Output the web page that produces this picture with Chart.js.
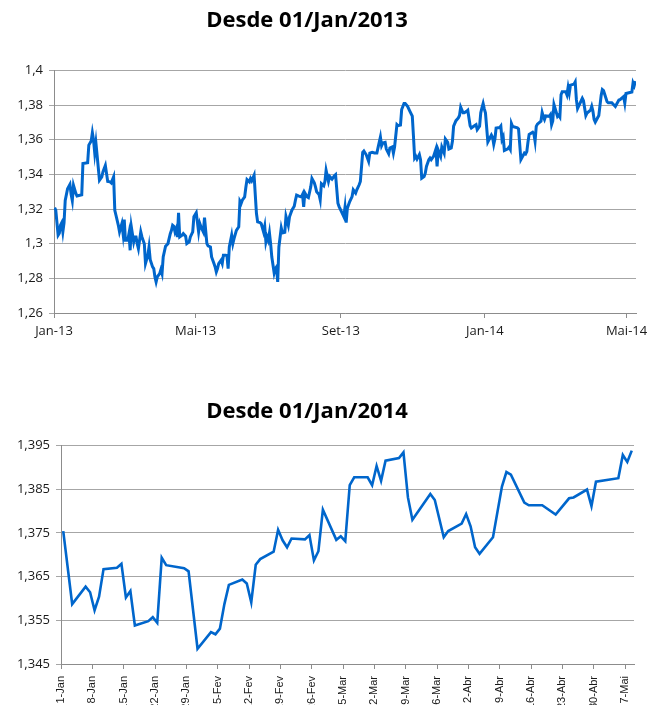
<!DOCTYPE html>
<html>
<head>
<meta charset="utf-8">
<script src="https://cdn.jsdelivr.net/npm/chart.js@4.4.1/dist/chart.umd.min.js"></script>
<style>
  html, body { margin: 0; padding: 0; background: #fff; overflow: hidden; width: 663px; height: 705px; }
  canvas { position: absolute; }
  #chartAll { left: -22px; top: 0; }
  #chart2014 { left: -20px; top: 385px; }
</style>
</head>
<body>
<canvas id="chartAll" width="685" height="345"></canvas>
<canvas id="chart2014" width="683" height="335"></canvas>
<script>
// days since 1 Jan 2013
var days2013 = [
  0, 1, 3, 4, 5, 6, 7, 8, 9, 11,
  13, 14, 15, 16, 18, 19, 23, 24, 28, 29,
  31, 32, 33, 34, 35, 36, 38, 40, 41, 43,
  44, 45, 47, 48, 50, 51, 52, 54, 55, 57,
  58, 59, 60, 62, 63, 64, 65, 67, 68, 69,
  70, 71, 73, 74, 76, 77, 79, 80, 81, 83,
  84, 85, 86, 87, 89, 90, 91, 92, 94, 96,
  98, 99, 100, 101, 102, 103, 104, 105, 106, 108,
  109, 111, 112, 114, 115, 117, 118, 120, 122, 123,
  124, 126, 127, 129, 130, 132, 133, 135, 136, 137,
  138, 139, 141, 142, 143, 145, 146, 147, 148, 150,
  151, 152, 154, 156, 157, 158, 159, 161, 162, 163,
  165, 166, 167, 169, 170, 171, 172, 174, 175, 177,
  178, 179, 180, 181, 182, 183, 184, 186, 187, 188,
  189, 190, 192, 193, 195, 196, 198, 199, 201, 203,
  204, 205, 207, 209, 210, 211, 212, 214, 215, 217,
  218, 220, 221, 222, 224, 225, 226, 228, 229, 230,
  232, 233, 235, 237, 238, 240, 241, 243, 245, 246,
  247, 248, 250, 252, 253, 255, 256, 258, 259, 261,
  262, 264, 266, 267, 269, 271, 273, 274, 276, 277,
  278, 280, 281, 283, 284, 286, 287, 288, 290, 291,
  293, 294, 296, 297, 299, 301, 303, 304, 305, 306,
  307, 309, 310, 311, 313, 314, 315, 317, 318, 319,
  321, 323, 324, 325, 327, 328, 330, 331, 333, 334,
  336, 337, 338, 340, 342, 343, 344, 346, 347, 349,
  350, 352, 353, 355, 357, 358, 360, 361, 362, 363,
  364
];
var values2013 = [
  1.3208, 1.3193, 1.3049, 1.3060, 1.3106, 1.3120, 1.3068, 1.3120, 1.3249, 1.3317,
  1.3342, 1.3285, 1.3249, 1.3337, 1.3290, 1.3275, 1.3282, 1.3463, 1.3467, 1.3569,
  1.3592, 1.3640, 1.3598, 1.3524, 1.3582, 1.3511, 1.3366, 1.3386, 1.3415, 1.3451,
  1.3405, 1.3359, 1.3357, 1.3351, 1.3386, 1.3193, 1.3164, 1.3106, 1.3068, 1.3116,
  1.3058, 1.3139, 1.3020, 1.3020, 1.3058, 1.2962, 1.3097, 1.3010, 1.3039, 1.3039,
  1.3000, 1.2971, 1.3068, 1.3039, 1.3000, 1.2885, 1.2933, 1.2981, 1.2908, 1.2866,
  1.2856, 1.2808, 1.2779, 1.2808, 1.2827, 1.2850, 1.2827, 1.2923, 1.2985, 1.3000,
  1.3058, 1.3077, 1.3106, 1.3100, 1.3068, 1.3087, 1.3039, 1.3178, 1.3039, 1.3049,
  1.3058, 1.3043, 1.3000, 1.3010, 1.3039, 1.3068, 1.3155, 1.3178, 1.3068, 1.3116,
  1.3097, 1.3068, 1.3151, 1.3000, 1.2987, 1.2981, 1.2923, 1.2885, 1.2866, 1.2837,
  1.2856, 1.2885, 1.2904, 1.2885, 1.2933, 1.2933, 1.2931, 1.2856, 1.2981, 1.3049,
  1.3000, 1.3029, 1.3077, 1.3097, 1.3245, 1.3232, 1.3251, 1.3270, 1.3324, 1.3370,
  1.3357, 1.3376, 1.3363, 1.3395, 1.3282, 1.3174, 1.3126, 1.3122, 1.3116, 1.3068,
  1.3101, 1.3010, 1.3039, 1.3020, 1.3062, 1.3000, 1.2923, 1.2831, 1.2856, 1.2866,
  1.2779, 1.2981, 1.3091, 1.3062, 1.3066, 1.3158, 1.3106, 1.3155, 1.3193, 1.3216,
  1.3251, 1.3280, 1.3274, 1.3270, 1.3284, 1.3212, 1.3293, 1.3270, 1.3266, 1.3328,
  1.3376, 1.3351, 1.3328, 1.3299, 1.3284, 1.3253, 1.3346, 1.3334, 1.3359, 1.3423,
  1.3359, 1.3388, 1.3373, 1.3392, 1.3398, 1.3234, 1.3214, 1.3185, 1.3156, 1.3210,
  1.3122, 1.3205, 1.3243, 1.3272, 1.3311, 1.3292, 1.3311, 1.3340, 1.3359, 1.3527,
  1.3535, 1.3513, 1.3475, 1.3523, 1.3527, 1.3523, 1.3523, 1.3554, 1.3616, 1.3566,
  1.3581, 1.3585, 1.3546, 1.3519, 1.3552, 1.3558, 1.3523, 1.3558, 1.3687, 1.3681,
  1.3685, 1.3774, 1.3809, 1.3809, 1.3793, 1.3764, 1.3736, 1.3620, 1.3494, 1.3504,
  1.3488, 1.3514, 1.3485, 1.3378, 1.3388, 1.3407, 1.3446, 1.3485, 1.3494, 1.3485,
  1.3504, 1.3546, 1.3446, 1.3539, 1.3504, 1.3558, 1.3523, 1.3604, 1.3585, 1.3546,
  1.3552, 1.3591, 1.3678, 1.3710, 1.3726, 1.3740, 1.3788, 1.3755, 1.3755, 1.3764,
  1.3770, 1.3681, 1.3668, 1.3678, 1.3687, 1.3658, 1.3678, 1.3755, 1.3784, 1.3809,
  1.3778
];

// days since 1 Jan 2014
var days2014 = [
  0, 2, 5, 6, 7, 8, 9, 12, 13, 14,
  15, 16, 19, 20, 21, 22, 23, 27, 28, 30,
  33, 34, 35, 36, 37, 40, 41, 42, 43, 44,
  47, 48, 49, 50, 51, 54, 55, 56, 57, 58,
  61, 62, 63, 64, 65, 68, 69, 70, 71, 72,
  75, 76, 77, 78, 82, 83, 85, 86, 89, 90,
  91, 92, 93, 96, 98, 99, 100, 103, 104, 107,
  110, 113, 114, 117, 118, 119, 124, 125, 126, 127
];
var values2014 = [
  1.3754, 1.3587, 1.3627, 1.3614, 1.3573, 1.3604, 1.3667, 1.3670, 1.3679, 1.3602,
  1.3617, 1.3538, 1.3548, 1.3557, 1.3544, 1.3693, 1.3676, 1.3669, 1.3662, 1.3485,
  1.3523, 1.3518, 1.3531, 1.3587, 1.3631, 1.3643, 1.3634, 1.3591, 1.3677, 1.3690,
  1.3707, 1.3757, 1.3733, 1.3717, 1.3737, 1.3735, 1.3745, 1.3687, 1.3708, 1.3803,
  1.3734, 1.3742, 1.3731, 1.3859, 1.3877, 1.3877, 1.3859, 1.3903, 1.3869, 1.3915,
  1.3921, 1.3934, 1.3831, 1.3780, 1.3839, 1.3825, 1.3740, 1.3754, 1.3771, 1.3793,
  1.3765, 1.3717, 1.3702, 1.3740, 1.3856, 1.3889, 1.3883, 1.3819, 1.3813, 1.3813,
  1.3792, 1.3829, 1.3831, 1.3849, 1.3811, 1.3867, 1.3875, 1.3928, 1.3912, 1.3938
];

var allTickDates = ['2013-01-01', '2013-05-01', '2013-09-01', '2014-01-01', '2014-05-01'];
var allTickLabels = ['Jan-13', 'Mai-13', 'Set-13', 'Jan-14', 'Mai-14'];
var allYTicks = [1.26, 1.28, 1.30, 1.32, 1.34, 1.36, 1.38, 1.40];

var weekTickLabels = ['1-Jan', '8-Jan', '15-Jan', '22-Jan', '29-Jan', '5-Fev', '12-Fev', '19-Fev', '26-Fev',
  '5-Mar', '12-Mar', '19-Mar', '26-Mar', '2-Abr', '9-Abr', '16-Abr', '23-Abr', '30-Abr', '7-Mai'];
var weekYTicks = [1.345, 1.355, 1.365, 1.375, 1.385, 1.395];

var DAY_MS = 86400000;
var START_2013 = Date.UTC(2013, 0, 1);

function dayOf(str, start) {
  var p = str.split('-');
  return Math.round((Date.UTC(+p[0], +p[1] - 1, +p[2]) - start) / DAY_MS);
}

// excel puts each daily point in the middle of its day
function toPoints(days, values, shift) {
  return days.map(function (d, i) {
    return { x: d + shift + 0.5, y: values[i] };
  });
}

function fmt(v) {
  return String(Math.round(v * 1000) / 1000).replace('.', ',');
}

var TXT = '#1a1a1a';
var GRID = '#a6a6a6';
var AXIS = '#8c8c8c';
var BLUE = '#0066cc';
var tickFont = { family: 'Open Sans', size: 13 };
var titleFont = { family: 'Open Sans', size: 22, weight: 'bold' };

Chart.defaults.animation = false;

// whole period chart
var allPoints = toPoints(days2013, values2013, 0).concat(toPoints(days2014, values2014, 365));
var allTickDays = allTickDates.map(function (s) { return dayOf(s, START_2013); });

new Chart(document.getElementById('chartAll').getContext('2d'), {
  type: 'line',
  data: {
    datasets: [{
      data: allPoints,
      borderColor: BLUE,
      borderWidth: 3,
      pointRadius: 0,
      tension: 0,
      fill: false
    }]
  },
  options: {
    responsive: false,
    layout: { padding: { left: 0, right: 27, top: 0, bottom: 0 } },
    plugins: {
      legend: { display: false },
      tooltip: { enabled: false },
      title: {
        display: true,
        text: 'Desde 01/Jan/2013',
        color: '#000',
        font: titleFont,
        padding: { top: 8, bottom: 36 }
      }
    },
    scales: {
      x: {
        type: 'linear',
        min: 0,
        max: 493,
        afterBuildTicks: function (s) {
          s.ticks = allTickDays.map(function (d) { return { value: d }; });
        },
        afterFit: function (s) { s.height = 32; },
        ticks: {
          autoSkip: false,
          maxRotation: 0,
          color: TXT,
          font: tickFont,
          padding: 5,
          callback: function (v) {
            var i = allTickDays.indexOf(v);
            return i >= 0 ? allTickLabels[i] : '';
          }
        },
        grid: { drawOnChartArea: false, tickLength: 5, color: AXIS },
        border: { color: AXIS }
      },
      y: {
        min: 1.26,
        max: 1.40,
        afterBuildTicks: function (s) {
          s.ticks = allYTicks.map(function (v) { return { value: v }; });
        },
        afterFit: function (s) { s.width = 76; },
        ticks: { color: TXT, font: tickFont, padding: 6, callback: fmt },
        grid: { color: GRID, tickLength: 5 },
        border: { color: AXIS }
      }
    }
  }
});

// 2014 chart, weekly ticks
var weekTickDays = weekTickLabels.map(function (l, i) { return i * 7; });

new Chart(document.getElementById('chart2014').getContext('2d'), {
  type: 'line',
  data: {
    datasets: [{
      data: toPoints(days2014, values2014, 0),
      borderColor: BLUE,
      borderWidth: 2.6,
      pointRadius: 0,
      tension: 0,
      fill: false
    }]
  },
  options: {
    responsive: false,
    layout: { padding: { left: 0, right: 29, top: 0, bottom: 0 } },
    plugins: {
      legend: { display: false },
      tooltip: { enabled: false },
      title: {
        display: true,
        text: 'Desde 01/Jan/2014',
        color: '#000',
        font: titleFont,
        padding: { top: 14, bottom: 20 }
      }
    },
    scales: {
      x: {
        type: 'linear',
        min: 0,
        max: 128,
        afterBuildTicks: function (s) {
          s.ticks = weekTickDays.map(function (d) { return { value: d }; });
        },
        afterFit: function (s) { s.height = 56; },
        ticks: {
          autoSkip: false,
          minRotation: 90,
          maxRotation: 90,
          color: TXT,
          font: { family: 'Liberation Sans', size: 11 },
          padding: 7,
          callback: function (v) {
            var i = weekTickDays.indexOf(v);
            return i >= 0 ? weekTickLabels[i] : '';
          }
        },
        grid: { drawOnChartArea: false, tickLength: 5, color: AXIS },
        border: { color: AXIS }
      },
      y: {
        min: 1.345,
        max: 1.395,
        afterBuildTicks: function (s) {
          s.ticks = weekYTicks.map(function (v) { return { value: v }; });
        },
        afterFit: function (s) { s.width = 81; },
        ticks: { color: TXT, font: tickFont, padding: 6, callback: fmt },
        grid: { color: GRID, tickLength: 5 },
        border: { color: AXIS }
      }
    }
  }
});
</script>
</body>
</html>
